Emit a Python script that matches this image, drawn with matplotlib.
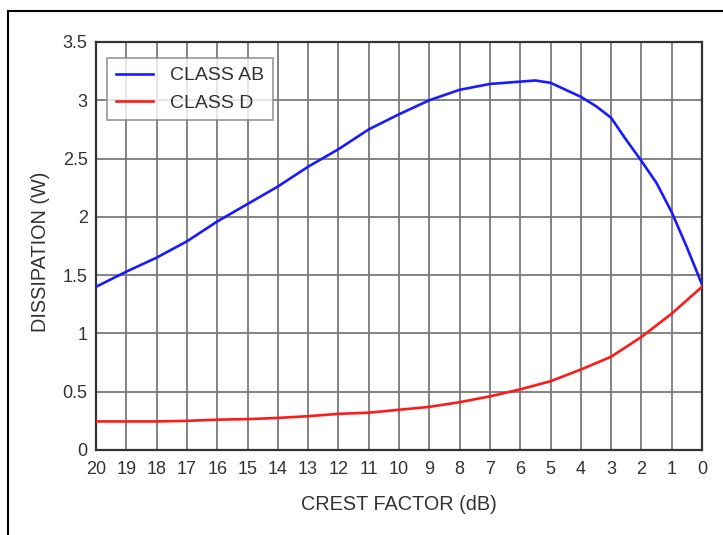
import matplotlib
matplotlib.use("Agg")
import matplotlib.pyplot as plt
from matplotlib.lines import Line2D

plt.rcParams['font.family'] = ['Liberation Sans', 'DejaVu Sans']

# Data
crest_ab = [20, 19, 18, 17, 16, 15, 14, 13, 12, 11, 10, 9, 8, 7, 6, 5.5, 5, 4.5, 4, 3.5, 3, 2.5, 2, 1.5, 1, 0.5, 0]
class_ab = [1.40, 1.53, 1.65, 1.79, 1.96, 2.11, 2.26, 2.43, 2.58, 2.75, 2.88, 3.00, 3.09, 3.14, 3.16, 3.17, 3.15, 3.09, 3.03, 2.95, 2.85, 2.66, 2.48, 2.29, 2.04, 1.74, 1.42]

crest_d = [20, 19, 18, 17, 16, 15, 14, 13, 12, 11, 10, 9, 8, 7, 6, 5, 4, 3, 2, 1, 0]
class_d = [0.245, 0.245, 0.245, 0.25, 0.26, 0.265, 0.275, 0.29, 0.31, 0.32, 0.345, 0.37, 0.41, 0.46, 0.52, 0.59, 0.69, 0.80, 0.97, 1.17, 1.40]

x_ticks = list(range(20, -1, -1))
y_ticks = [0, 0.5, 1, 1.5, 2, 2.5, 3, 3.5]
y_tick_labels = ['0', '0.5', '1', '1.5', '2', '2.5', '3', '3.5']

fig = plt.figure(figsize=(7.23, 5.35), dpi=100)
ax = fig.add_axes([96/723, 1 - 450/535, (702 - 96)/723, (450 - 42)/535])

ax.plot(crest_ab, class_ab, color='#1a1aff', lw=1.9, label='CLASS AB', zorder=3)
ax.plot(crest_d, class_d, color='#ff1a1a', lw=1.9, label='CLASS D', zorder=3)

ax.set_xlim(20, 0)
ax.set_ylim(0, 3.5)
ax.set_xticks(x_ticks)
ax.set_xticklabels([str(v) for v in x_ticks], fontsize=13)
ax.set_yticks(y_ticks)
ax.set_yticklabels(y_tick_labels, fontsize=13)
ax.tick_params(axis='x', length=0, colors='#333333', pad=8)
ax.tick_params(axis='y', length=0, colors='#333333', pad=6)
ax.grid(True, color='#7a7a7a', lw=1.3)
ax.set_axisbelow(True)
for s in ax.spines.values():
    s.set_color('#333333')
    s.set_linewidth(1.6)

ax.set_xlabel('CREST FACTOR (dB)', fontsize=14.3, color='#333333', labelpad=12)
ax.set_ylabel('DISSIPATION (W)', fontsize=14.3, color='#333333')
ax.yaxis.label.set_va('center')
ax.yaxis.set_label_coords((41 - 96) / 606, 0.485)

leg = ax.legend(loc='upper left', bbox_to_anchor=(11/606, (450 - 58)/408), fontsize=14,
                frameon=True, fancybox=False, handlelength=1.9, borderpad=0.45,
                labelspacing=0.5, handletextpad=0.9, borderaxespad=0)
leg.get_frame().set_edgecolor('#888888')
leg.get_frame().set_linewidth(1.3)
for t in leg.get_texts():
    t.set_color('#333333')

# Outer frame lines (left and top)
fig.add_artist(Line2D([8/723, 8/723], [0, 1 - 11/535], transform=fig.transFigure, color='black', lw=1.5))
fig.add_artist(Line2D([8/723, 1], [1 - 11/535, 1 - 11/535], transform=fig.transFigure, color='black', lw=1.5))

fig.savefig('out.png', dpi=100)
